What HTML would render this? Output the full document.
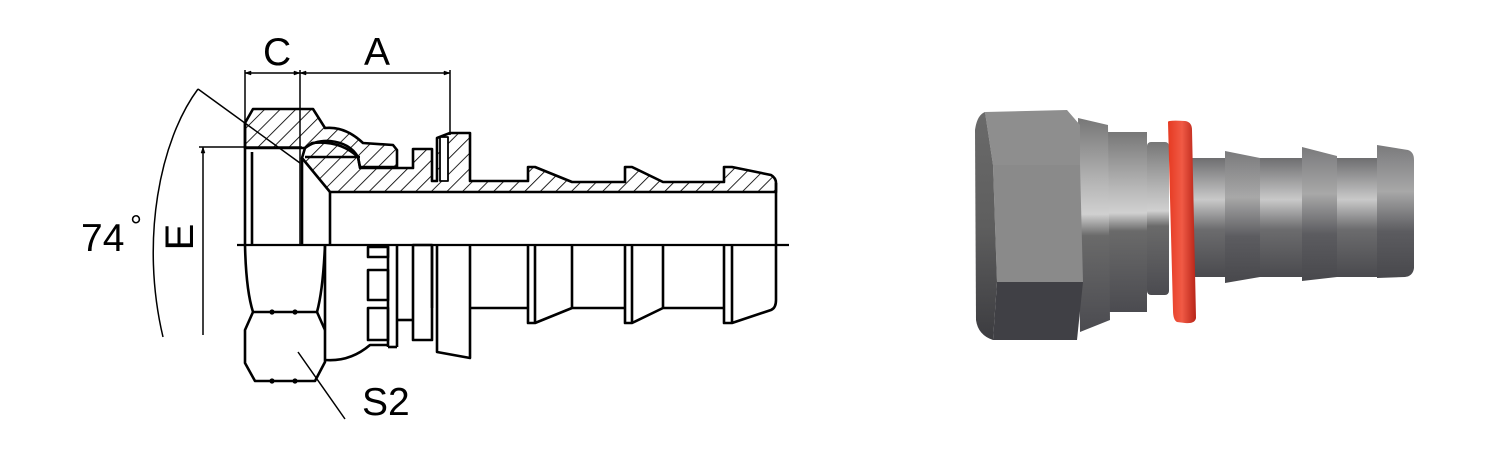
<!DOCTYPE html>
<html><head><meta charset="utf-8"><style>
html,body{margin:0;padding:0;background:#fff;}
svg{display:block;}
text{font-family:"Liberation Sans",Arial,sans-serif;fill:#000;}
</style></head><body>
<svg width="1500" height="450" viewBox="0 0 1500 450" xmlns="http://www.w3.org/2000/svg">
<defs>
<pattern id="h" patternUnits="userSpaceOnUse" width="11" height="11" patternTransform="rotate(45)">
<line x1="0" y1="0" x2="0" y2="11" stroke="#000" stroke-width="1.7"/>
</pattern>
<linearGradient id="tube" x1="0" y1="0" x2="0" y2="1">
<stop offset="0" stop-color="#6e6e70"/><stop offset="0.35" stop-color="#c9c9c9"/><stop offset="0.6" stop-color="#6c6c6e"/><stop offset="1" stop-color="#4a4a4e"/>
</linearGradient>
<linearGradient id="barb" x1="0" y1="0" x2="0" y2="1">
<stop offset="0" stop-color="#7a7a7c"/><stop offset="0.35" stop-color="#a8a8a8"/><stop offset="0.65" stop-color="#5c5c60"/><stop offset="1" stop-color="#48484c"/>
</linearGradient>
<linearGradient id="collar" x1="0" y1="0" x2="0" y2="1">
<stop offset="0" stop-color="#777"/><stop offset="0.3" stop-color="#b5b5b5"/><stop offset="0.45" stop-color="#d0d0d0"/><stop offset="0.55" stop-color="#6a6a6a"/><stop offset="1" stop-color="#4b4b50"/>
</linearGradient>
<linearGradient id="red" x1="0" y1="0" x2="1" y2="0">
<stop offset="0" stop-color="#e63a22"/><stop offset="0.5" stop-color="#f05a45"/><stop offset="1" stop-color="#b82418"/>
</linearGradient>
<linearGradient id="leftface" x1="0" y1="0" x2="0" y2="1">
<stop offset="0" stop-color="#6a6a6a"/><stop offset="0.5" stop-color="#5e5e5e"/><stop offset="1" stop-color="#3c3c40"/>
</linearGradient>
</defs>

<g fill="none" stroke="#000" stroke-width="2.6" stroke-linejoin="round">
<line x1="237" y1="245" x2="789" y2="245" stroke-width="2.2"/>
<g stroke-width="1.5">
<line x1="245" y1="70" x2="245" y2="125"/>
<line x1="300" y1="70" x2="300" y2="245"/>
<line x1="450" y1="70" x2="450" y2="135"/>
<line x1="245" y1="73" x2="450" y2="73"/>
<line x1="198" y1="89" x2="300" y2="163"/>
<path d="M198,89 C160,140 140,240 163,337"/>
<line x1="199" y1="147" x2="302" y2="147"/>
<line x1="203" y1="147" x2="203" y2="335"/>
<line x1="298" y1="352" x2="345" y2="419"/>
</g>
<path d="M245,73 l6,-2 v4 z M300,73 l-6,-2 v4 z M300,73 l6,-2 v4 z M450,73 l-6,-2 v4 z M203,147 l-2,6 h4 z" fill="#000" stroke-width="0.5"/>

<path d="M245,123 L253,109 L313,109 L325,128 Q345,126 363,143 L393,145 L397,150 L397,167 L360,167 L358,157 Q340,140 312,143 L305,148 L245,148 Z" fill="url(#h)"/>
<path d="M302,158 L305,148 Q315,140 330,141 Q350,143 358,157 L360,168 L413,168 L413,149 L432,149 L432,181 L437,181 L437,138 L450,133 L470,133 L470,181 L528,181 L528,167 L535,167 L572,182 L625,182 L625,167 L632,167 L663,182 L724,182 L724,167 L732,167 L771,175 Q776,178 776,183 L776,192 L330,192 Z" fill="url(#h)"/>
<rect x="440" y="137" width="8" height="44" fill="#fff" stroke-width="1.8"/>
<line x1="305" y1="157" x2="360" y2="157"/>
<line x1="245" y1="123" x2="245" y2="245"/>
<line x1="252" y1="152" x2="252" y2="245"/>
<line x1="302" y1="158" x2="302" y2="245"/>
<line x1="330" y1="192" x2="330" y2="245"/>
<line x1="776" y1="183" x2="776" y2="245"/>

<path d="M245,245 Q246,290 253,312 L245,330 L245,363 L255,381 L315,381 L325,362 L325,245"/>
<path d="M253,312 L317,312 Q323,290 325,245"/>
<path d="M317,312 L325,330"/>
<g fill="#000" stroke="none">
<circle cx="272" cy="312" r="2.6"/><circle cx="295" cy="312" r="2.6"/>
<circle cx="272" cy="381" r="2.6"/><circle cx="295" cy="381" r="2.6"/>
</g>
<path d="M325,360 Q350,362 370,345 L388,345"/>
<rect x="368" y="247" width="20" height="10"/>
<rect x="368" y="270" width="20" height="30"/>
<rect x="368" y="308" width="20" height="32"/>
<line x1="388" y1="245" x2="388" y2="347"/>
<line x1="397" y1="245" x2="397" y2="347"/>
<line x1="388" y1="347" x2="397" y2="347"/>
<line x1="397" y1="320" x2="413" y2="320"/>
<rect x="413" y="245" width="19" height="95"/>
<line x1="432" y1="245" x2="432" y2="308"/>
<path d="M437,245 L437,352 L470,358 L470,245"/>
<path d="M470,308 L528,308"/>
<path d="M528,245 L528,323 L535,323 L572,308 L625,308"/>
<line x1="535" y1="245" x2="535" y2="323"/>
<line x1="572" y1="245" x2="572" y2="308"/>
<path d="M625,245 L625,323 L632,323 L663,308 L724,308"/>
<line x1="632" y1="245" x2="632" y2="323"/>
<line x1="663" y1="245" x2="663" y2="308"/>
<path d="M724,245 L724,323 L732,323 L771,310 Q776,308 776,300 L776,245"/>
<line x1="732" y1="245" x2="732" y2="323"/>
</g>
<text x="263" y="65" font-size="39">C</text>
<text x="364" y="65" font-size="39">A</text>
<text x="81" y="251" font-size="39">74</text>
<text x="130" y="236" font-size="30">°</text>
<text transform="translate(193,237) rotate(-90)" text-anchor="middle" font-size="40">E</text>
<text x="362" y="415" font-size="39">S2</text>

<rect x="1190" y="158" width="200" height="119" fill="url(#tube)"/>
<path d="M1225,151 L1260,158 L1260,277 L1225,283 Z" fill="url(#barb)"/>
<path d="M1302,147 L1337,156 L1337,277 L1302,281 Z" fill="url(#barb)"/>
<path d="M1377,145 L1408,150 Q1414,152 1414,160 L1414,268 Q1413,276 1405,277 L1377,278 Z" fill="url(#barb)"/>
<rect x="1147" y="142" width="22" height="153" rx="4" fill="url(#collar)"/>
<rect x="1105" y="132" width="42" height="180" fill="url(#collar)"/>
<path d="M1078,118 L1108,125 L1110,320 L1080,332 Z" fill="url(#collar)"/>
<path d="M985,112 L1067,110 L1080,125 L1080,165 L993,165 Z" fill="#8e8e8e"/>
<path d="M993,165 L1080,165 L1083,282 L997,282 Z" fill="#8a8a8a"/>
<path d="M997,282 L1083,282 L1077,340 L993,340 Z" fill="#404045"/>
<path d="M985,112 L993,165 L997,282 L993,340 Q978,335 976,320 L975,130 Q977,115 985,112 Z" fill="url(#leftface)"/>
<path d="M1168,122 Q1168,120 1185,121 Q1192,122 1192,130 L1196,318 Q1195,324 1185,323 L1177,322 Q1173,320 1173,310 Z" fill="url(#red)"/>
</svg>
</body></html>
